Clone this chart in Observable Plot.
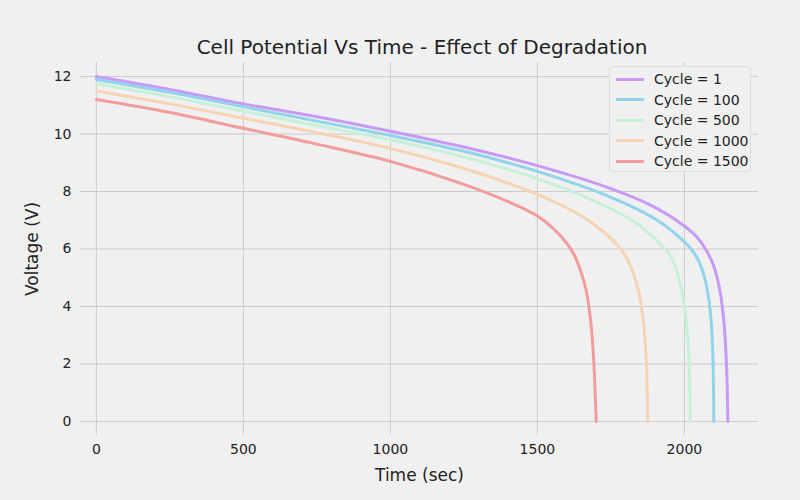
<!DOCTYPE html>
<html><head><meta charset="utf-8">
<script src="https://cdn.jsdelivr.net/npm/d3@7"></script>
<script src="https://cdn.jsdelivr.net/npm/@observablehq/plot@0.6"></script>
<style>
body{margin:0;background:#f0f0f0;font-family:"DejaVu Sans",sans-serif;}
#wrap{position:relative;width:800px;height:500px;}
#title{position:absolute;top:35px;left:0;width:800px;text-align:center;font-size:20px;color:#222;margin-left:22px}
#legend{position:absolute;left:609px;top:66px;width:142px;height:106px;background:#f0f0f0;border:1px solid #ddd;border-radius:3px;font-size:14px;color:#222;box-sizing:border-box;padding:2px 0 0 6px}
#legend div{height:20.5px;display:flex;align-items:center}
#legend span{display:inline-block;width:28px;height:3px;margin-right:10px}
</style></head><body>
<div id="wrap"><div id="chart"></div><div id="title">Cell Potential Vs Time - Effect of Degradation</div><div id="legend"></div></div>
<script>
const seriesNames = ["Cycle = 1","Cycle = 100","Cycle = 500","Cycle = 1000","Cycle = 1500"];
const colors = ["#c79af5","#90d4ec","#c6f0d8","#f6d3b2","#f39c9c"];
const times = [
 [0,250,500,750,1000,1250,1500,1750,1900,2000,2048,2080,2100,2120,2135,2143,2148],
 [0,250,500,750,1000,1250,1500,1750,1900,2000,2030,2050,2070,2085,2095,2100],
 [0,250,500,750,1000,1250,1500,1750,1850,1920,1950,1970,1990,2005,2015,2020],
 [0,250,500,750,1000,1250,1500,1650,1725,1775,1800,1825,1845,1860,1870,1875],
 [0,250,500,750,1000,1250,1400,1500,1550,1600,1625,1650,1665,1680,1690,1700]
];
const volts = [
 [12.0,11.55,11.05,10.6,10.1,9.55,8.9,8.1,7.45,6.8,6.35,5.85,5.4,4.6,3.4,2.0,0],
 [11.9,11.45,10.95,10.45,9.95,9.4,8.7,7.8,7.05,6.25,5.9,5.55,4.95,4.1,2.8,0],
 [11.75,11.3,10.8,10.3,9.8,9.2,8.45,7.4,6.8,6.15,5.8,5.35,4.6,3.6,2.3,0],
 [11.5,11.05,10.55,10.05,9.5,8.8,7.9,7.15,6.6,6.1,5.75,5.2,4.5,3.5,2.2,0],
 [11.2,10.75,10.2,9.65,9.05,8.25,7.65,7.15,6.75,6.2,5.8,5.15,4.6,3.6,2.4,0]
];
const xTicks = [0,500,1000,1500,2000];
const yTicks = [0,2,4,6,8,10,12];
const data = [];
seriesNames.forEach((s,i)=>times[i].forEach((t,j)=>data.push({series:s,t,v:volts[i][j]})));
const chart = Plot.plot({
 width:800,height:500,marginLeft:80,marginRight:42,marginTop:62,marginBottom:65,
 style:{background:"#f0f0f0",fontSize:"14px",fontFamily:"DejaVu Sans",color:"#222"},
 x:{domain:[-54,2252],ticks:xTicks,tickFormat:"d",tickSize:0,label:"Time (sec)",labelAnchor:"center",labelArrow:"none",labelOffset:45},
 y:{domain:[-0.49,12.49],ticks:yTicks,tickSize:0,label:"Voltage (V)",labelAnchor:"center",labelArrow:"none",labelOffset:55},
 color:{domain:seriesNames,range:colors},
 marks:[
  Plot.gridX(xTicks,{stroke:"#cbcbcb",strokeOpacity:1}),
  Plot.gridY(yTicks,{stroke:"#cbcbcb",strokeOpacity:1}),
  Plot.line(data,{x:"t",y:"v",z:"series",stroke:"series",strokeWidth:3,curve:"catmull-rom"})
 ]
});
document.getElementById("chart").appendChild(chart);
const lg=document.getElementById("legend");
seriesNames.forEach((s,i)=>{const d=document.createElement("div");d.innerHTML=`<span style="background:${colors[i]}"></span>${s}`;lg.appendChild(d);});
chart.querySelectorAll("g[aria-label='x-axis label'] text, g[aria-label='y-axis label'] text").forEach(t=>t.style.fontSize="17px");
</script></body></html>
